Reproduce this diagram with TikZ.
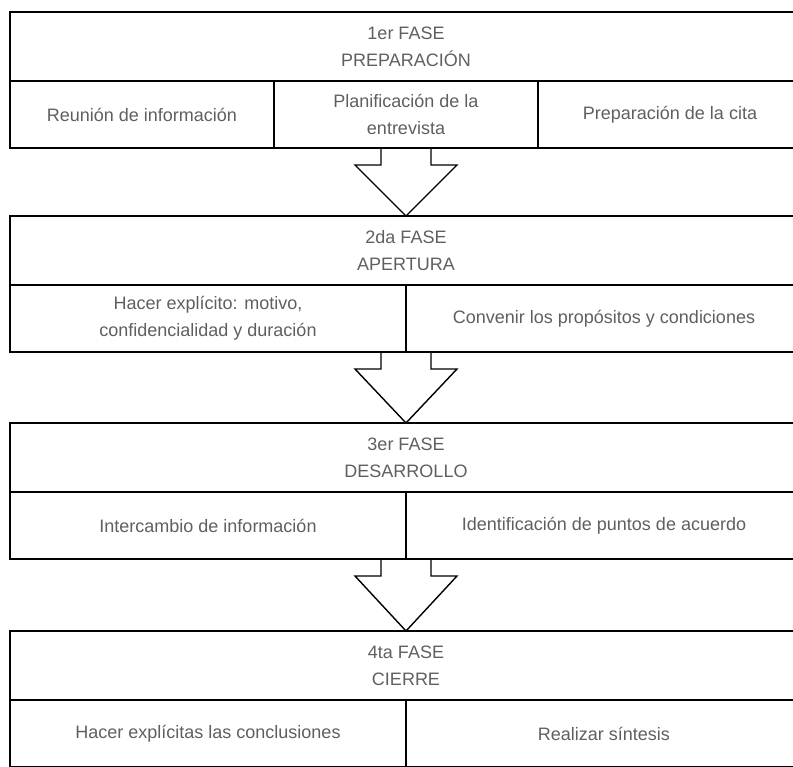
\documentclass[tikz,border=0pt]{standalone}
\usepackage{fontspec}
\setmainfont{Liberation Sans}
\usetikzlibrary{positioning,calc}
\definecolor{txtgray}{RGB}{95,95,95}
\newcommand{\flechabloque}[2]{%
  \draw[flecha] ($(#1)+(-25,0)$) -- ++(0,17) -- ++(-26,0) -- (#2)
    -- ($(#1)+(51,17)$) -- ++(-26,0) -- ++(0,-17);}

\begin{document}
\begin{tikzpicture}[x=1pt,y=-1pt,
    fase/.style={draw,line width=1.4pt,minimum width=792pt,minimum height=69pt,
      inner sep=0pt,outer sep=0pt,align=center,text=txtgray,
      font=\fontsize{18}{27}\selectfont},
    celda/.style={fase,minimum width=#1,minimum height=67pt},
    flecha/.style={draw,line width=1.4pt,line join=miter}]
            \useasboundingbox (0,0) rectangle (793,767);
            \clip (0,0) rectangle (793,767);

            \node[fase,anchor=north west] (fase1) at (10,12) {1er FASE\\PREPARACIÓN};
            \node[celda=264pt,below right=0pt of fase1.south west] (a1) {Reunión de información};
            \node[celda=264pt,right=0pt of a1] (a2) {Planificación de la\\entrevista};
            \node[celda=264pt,right=0pt of a2] (a3) {Preparación de la cita};

            \node[fase,anchor=north west] (fase2) at (10,216) {2da FASE\\APERTURA};
            \node[celda=396pt,below right=0pt of fase2.south west] (b1) {Hacer explícito: motivo,\\confidencialidad y duración};
            \node[celda=396pt,right=0pt of b1] (b2) {Convenir los propósitos y condiciones};

            \node[fase,anchor=north west] (fase3) at (10,423) {3er FASE\\DESARROLLO};
            \node[celda=396pt,below right=0pt of fase3.south west] (c1) {Intercambio de información};
            \node[celda=396pt,right=0pt of c1] (c2) {Identificación de puntos de acuerdo};

            \node[fase,anchor=north west] (fase4) at (10,631) {4ta FASE\\CIERRE};
            \node[celda=396pt,below right=0pt of fase4.south west] (d1) {Hacer explícitas las conclusiones};
            \node[celda=396pt,right=0pt of d1] (d2) {Realizar síntesis};

            \flechabloque{fase1.center |- a2.south}{fase2.north}
            \flechabloque{fase2.center |- b1.south}{fase3.north}
            \flechabloque{fase3.center |- c1.south}{fase4.north}
        \end{tikzpicture}
\end{document}
